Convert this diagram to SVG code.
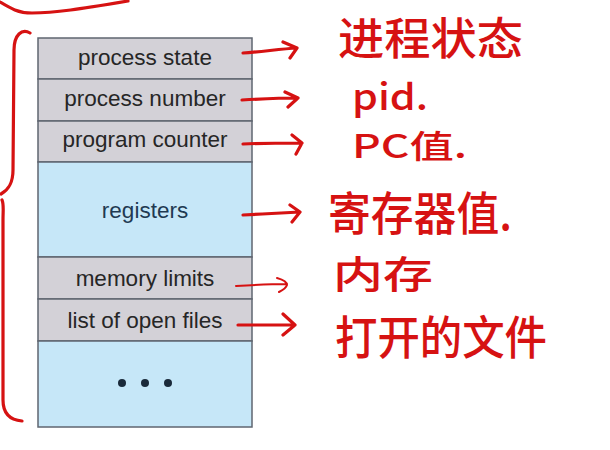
<svg xmlns="http://www.w3.org/2000/svg" width="610" height="450" viewBox="0 0 610 450">
<style>
.g{fill:#d3d1d7;stroke:#5f6670;stroke-width:1.5}
.b{fill:#c6e7f8;stroke:#5f6670;stroke-width:1.5}
.t{font-family:"Liberation Sans",Arial,sans-serif;font-size:22.5px;fill:#262626;text-anchor:middle}
.tb{fill:#1f3a52}
.r{fill:none;stroke:#d61212;stroke-width:3.2;stroke-linecap:round;stroke-linejoin:round}
.rt{font-family:"Noto Sans CJK SC","Noto Sans",sans-serif;fill:#d61212;font-weight:500}
</style>
<rect width="610" height="450" fill="#ffffff"/>
<g id="pcb">
<g id="process-state"><rect class="g" x="38" y="38" width="214" height="41"/><text class="t" x="145" y="65">process state</text></g>
<g id="process-number"><rect class="g" x="38" y="79" width="214" height="42"/><text class="t" x="145" y="106">process number</text></g>
<g id="program-counter"><rect class="g" x="38" y="121" width="214" height="41"/><text class="t" x="145" y="147">program counter</text></g>
<g id="registers"><rect class="b" x="38" y="162" width="214" height="95"/><text class="t tb" x="145" y="218">registers</text></g>
<g id="memory-limits"><rect class="g" x="38" y="257" width="214" height="42"/><text class="t" x="145" y="286">memory limits</text></g>
<g id="open-files"><rect class="g" x="38" y="299" width="214" height="42"/><text class="t" x="145" y="328">list of open files</text></g>
<g id="more"><rect class="b" x="38" y="341" width="214" height="86"/>
<circle cx="122" cy="383" r="4" fill="#1a2a3a"/><circle cx="145" cy="383" r="4" fill="#1a2a3a"/><circle cx="168" cy="383" r="4" fill="#1a2a3a"/></g>
</g>
<g id="connectors">
<path class="r" d="M0,2 C10,8 18,13 32,13 C55,13 80,9 128,1"/>
<path class="r" d="M30,33 C22,28 14,35 14,50 L13,170 C13,184 8,190 1,194"/>
<path class="r" d="M2,200 C4,204 3,210 3,220 L3,400 C3,414 10,420 22,421"/>
<path class="r" d="M243,53 C260,52 280,49 297,48 M283,42 L297,48 L290,58"/>
<path class="r" d="M242,100 C260,99 280,98 298,98 M285,92 L298,98 L288,107"/>
<path class="r" d="M243,144 C262,143 282,143 302,143 M292,135 L302,143 L296,154"/>
<path class="r" d="M243,215 C262,214 282,213 300,212 M290,205 L300,212 L292,222"/>
<path class="r" style="stroke-width:2" d="M236,286 C252,285 270,284 287,284 M277,278 C284,280 287,283 287,285 C286,288 283,290 279,292"/>
<path class="r" d="M238,325 C256,325 276,325 295,325 M283,314 L295,325 L283,335"/>
</g>
<g id="notes">
<text class="rt" x="338" y="55" font-size="44" textLength="185" lengthAdjust="spacingAndGlyphs">进程状态</text>
<text class="rt" x="352" y="110" font-size="36" textLength="76" lengthAdjust="spacingAndGlyphs">pid.</text>
<text class="rt" x="352" y="158" font-size="32" textLength="115" lengthAdjust="spacingAndGlyphs">PC值.</text>
<text class="rt" x="328" y="230" font-size="46" textLength="184" lengthAdjust="spacingAndGlyphs">寄存器值.</text>
<text class="rt" x="333" y="288" font-size="38" textLength="100" lengthAdjust="spacingAndGlyphs">内存</text>
<text class="rt" x="335" y="354" font-size="46" textLength="212" lengthAdjust="spacingAndGlyphs">打开的文件</text>
</g>
</svg>
